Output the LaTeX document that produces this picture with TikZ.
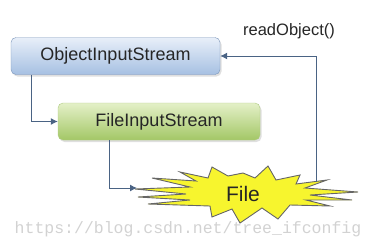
\documentclass[tikz,border=0pt]{standalone}
\usepackage{fontspec}
\setmainfont{Liberation Sans}
\newfontfamily\markfont{Liberation Mono}
\usetikzlibrary{arrows.meta,shadows}
\definecolor{linkblue}{HTML}{4A6384}
\definecolor{oisframe}{HTML}{7A95BA}
\definecolor{oistop}{HTML}{E8EFF9}
\definecolor{oisbottom}{HTML}{A6C0E2}
\definecolor{fisframe}{HTML}{AFCB82}
\definecolor{fistop}{HTML}{E4F0C8}
\definecolor{fisbottom}{HTML}{A3C766}
\definecolor{burstfill}{HTML}{F7F52E}

\begin{document}
\begin{tikzpicture}[x=1pt,y=-1pt,
    stream/.style={draw, rounded corners=5pt, minimum height=37pt, inner sep=0pt,
      font=\fontsize{18}{20}\selectfont, text=black!85,
      drop shadow={opacity=0.25, shadow xshift=1.5pt, shadow yshift=-2pt}},
    link/.style={draw=linkblue, line width=1pt, -{Latex[length=7pt,width=7pt]}},
    burst/.style={draw=gray!80!black, line width=0.9pt, fill=burstfill, line join=miter}]
  \useasboundingbox (0,0) rectangle (377,247);

  \node[stream, minimum width=209pt, draw=oisframe, top color=oistop, bottom color=oisbottom]
    (ois) at (115.5,56) {ObjectInputStream};
  \node[stream, minimum width=202pt, draw=fisframe, top color=fistop, bottom color=fisbottom]
    (fis) at (159,121.5) {FileInputStream};

  % the starburst round File
  \draw[burst] (135,189) -- (190,187) -- (152,178) -- (196,181) -- (180,172) -- (208,178)
    -- (212,167) -- (228,176) -- (243,173) -- (255,178) -- (268,166) -- (276,180)
    -- (300,175) -- (296,184) -- (327,180) -- (305,188) -- (358,192) -- (310,195)
    -- (352,200) -- (306,200) -- (330,206) -- (290,205) -- (278,219) -- (262,208)
    -- (240,223) -- (232,209) -- (212,217) -- (210,206) -- (148,204) -- (190,200)
    -- (138,197) -- (186,194) -- cycle;
  \coordinate (burstin) at (137,188);
  \coordinate (burstout) at (316,182);
  \node[font=\fontsize{21}{24}\selectfont, text=black!85] (file) at (243,194) {File};

  \node[font=\fontsize{16.5}{18}\selectfont, text=black!85] (read) at (289,31) {readObject()};

  \path[link] ([xshift=21pt]ois.south west) |- (fis);
  \path[link] ([xshift=52pt]fis.south west) |- (burstin);
  \path[link] (burstout) |- (ois);

  \node[font=\markfont\fontsize{16.5}{18}\selectfont, text=gray!35] (mark) at (188,229)
    {https://blog.csdn.net/tree\_ifconfig};
\end{tikzpicture}
\end{document}
